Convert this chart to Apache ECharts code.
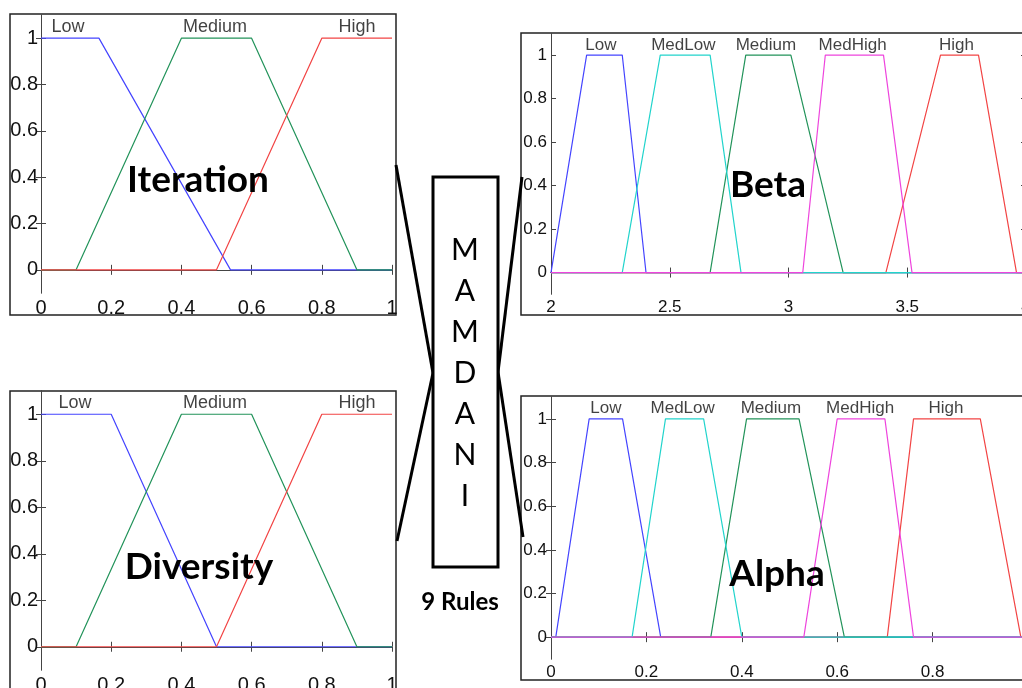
<!DOCTYPE html>
<html>
<head>
<meta charset="utf-8">
<script src="https://cdn.jsdelivr.net/npm/echarts@6/dist/echarts.min.js"></script>
<style>html,body{margin:0;padding:0;background:#fff}#c{width:1022px;height:688px}</style>
</head>
<body>
<div id="c"></div>
<script>
// ---------- data (membership functions: [x, membership]) ----------
const yTicks = [0, 0.2, 0.4, 0.6, 0.8, 1];

const iterationNames = ['Low', 'Medium', 'High'];
const iterationLabelX = [0.077, 0.496, 0.9];
const iterationLow = [[0,1],[0.165,1],[0.54,0],[1,0]];
const iterationMedium = [[0,0],[0.1,0],[0.4,1],[0.6,1],[0.9,0],[1,0]];
const iterationHigh = [[0,0],[0.5,0],[0.8,1],[1,1]];

const diversityNames = ['Low', 'Medium', 'High'];
const diversityLabelX = [0.097, 0.496, 0.9];
const diversityLow = [[0,1],[0.2,1],[0.5,0],[1,0]];
const diversityMedium = [[0,0],[0.1,0],[0.4,1],[0.6,1],[0.9,0],[1,0]];
const diversityHigh = [[0,0],[0.5,0],[0.8,1],[1,1]];

const betaNames = ['Low', 'MedLow', 'Medium', 'MedHigh', 'High'];
const betaLabelX = [2.21, 2.557, 2.905, 3.27, 3.707];
const betaLow = [[2,0],[2.15,1],[2.3,1],[2.4,0],[4,0]];
const betaMedLow = [[2,0],[2.3,0],[2.46,1],[2.67,1],[2.8,0],[4,0]];
const betaMedium = [[2,0],[2.67,0],[2.82,1],[3.01,1],[3.23,0],[4,0]];
const betaMedHigh = [[2,0],[3.06,0],[3.155,1],[3.4,1],[3.52,0],[4,0]];
const betaHigh = [[2,0],[3.41,0],[3.64,1],[3.8,1],[3.96,0],[4,0]];

const alphaNames = ['Low', 'MedLow', 'Medium', 'MedHigh', 'High'];
const alphaLabelX = [0.115, 0.276, 0.461, 0.648, 0.828];
const alphaLow = [[0,0],[0.01,0],[0.08,1],[0.15,1],[0.23,0],[1,0]];
const alphaMedLow = [[0,0],[0.17,0],[0.24,1],[0.32,1],[0.4,0],[1,0]];
const alphaMedium = [[0,0],[0.335,0],[0.41,1],[0.52,1],[0.615,0],[1,0]];
const alphaMedHigh = [[0,0],[0.53,0],[0.6,1],[0.7,1],[0.76,0],[1,0]];
const alphaHigh = [[0,0],[0.705,0],[0.76,1],[0.9,1],[0.985,0],[1,0]];

const centerLetters = ['M','A','M','D','A','N','I'];
const rulesText = '9 Rules';

// ---------- styling ----------
const C = {blue:'#4444ff', green:'#22935a', red:'#f24444', cyan:'#22d4cc', magenta:'#ee44dd'};
const AX = '#444';
const FONT = '"Liberation Sans", Arial, sans-serif';

const grids = [
  {left: 41, top: 15, width: 351, height: 278},
  {left: 41, top: 391, width: 351, height: 279},
  {left: 551, top: 33.3, width: 475, height: 261},
  {left: 551, top: 397, width: 477, height: 262}
];
const xRanges = [[0,1,0.2],[0,1,0.2],[2,4,0.5],[0,1,0.2]];
const tickFont = [20, 20, 17, 17];

const xAxis = [], yAxis = [];
grids.forEach((g, i) => {
  const [mn, mx, iv] = xRanges[i];
  const common = {
    gridIndex: i, type: 'value', min: mn, max: mx, interval: iv,
    axisLine: {show: true, lineStyle: {color: AX, width: 1}},
    axisTick: {show: true, inside: true, length: 5, lineStyle: {color: AX}},
    splitLine: {show: false}
  };
  xAxis.push(Object.assign({}, common, {position: 'bottom',
    axisLabel: {show: true, color: '#111', fontSize: tickFont[i], fontFamily: FONT, margin: 5}}));
  xAxis.push(Object.assign({}, common, {position: 'top', axisLabel: {show: false}}));
  const yc = {
    gridIndex: i, type: 'value', min: -0.1, max: 1.1,
    axisLine: {show: true, lineStyle: {color: AX, width: 1}},
    axisTick: {show: true, inside: true, length: 5, lineStyle: {color: AX}, customValues: yTicks},
    splitLine: {show: false}
  };
  yAxis.push(Object.assign({}, yc, {position: 'left',
    axisLabel: {show: true, color: '#111', fontSize: tickFont[i], fontFamily: FONT, margin: i < 2 ? 3 : 4,
      customValues: yTicks, formatter: v => String(v)}}));
  yAxis.push(Object.assign({}, yc, {position: 'right', axisLabel: {show: false}}));
});

const series = [];
function addLine(gi, data, color) {
  series.push({type: 'line', xAxisIndex: gi * 2, yAxisIndex: gi * 2, data: data,
    showSymbol: false, symbol: 'none', animation: false,
    lineStyle: {color: color, width: 1.2}, silent: true});
}
function addNames(gi, names, xs, fs) {
  series.push({type: 'scatter', xAxisIndex: gi * 2, yAxisIndex: gi * 2,
    data: names.map((n, k) => [xs[k], 1.047, n]), symbolSize: 0.1,
    itemStyle: {color: 'transparent'}, animation: false, silent: true,
    label: {show: true, position: 'inside', formatter: p => p.value[2],
      color: '#111', fontSize: fs, fontFamily: FONT}});
}
// Iteration
addLine(0, iterationLow, C.blue); addLine(0, iterationMedium, C.green); addLine(0, iterationHigh, C.red);
addNames(0, iterationNames, iterationLabelX, 18);
// Diversity
addLine(1, diversityLow, C.blue); addLine(1, diversityMedium, C.green); addLine(1, diversityHigh, C.red);
addNames(1, diversityNames, diversityLabelX, 18);
// Beta
addLine(2, betaLow, C.blue); addLine(2, betaHigh, C.red); addLine(2, betaMedium, C.green);
addLine(2, betaMedLow, C.cyan); addLine(2, betaMedHigh, C.magenta);
addNames(2, betaNames, betaLabelX, 17);
// Alpha
addLine(3, alphaLow, C.blue); addLine(3, alphaHigh, C.red); addLine(3, alphaMedium, C.green);
addLine(3, alphaMedLow, C.cyan); addLine(3, alphaMedHigh, C.magenta);
addNames(3, alphaNames, alphaLabelX, 17);

// ---------- annotations ----------
const graphic = [];
function frame(x, y, w, h) {
  graphic.push({type: 'rect', shape: {x: x, y: y, width: w, height: h}, z: -1,
    style: {fill: 'none', stroke: '#222', lineWidth: 1.5}});
}
frame(10, 14, 386, 301);
frame(10, 391, 386, 320);
frame(521, 33, 520, 282);
frame(521, 396, 520, 284);

function bigText(t, x, y) {
  graphic.push({type: 'text', x: x, y: y, z: 10,
    style: {text: t, fill: '#000', font: 'bold 37px Lato, "Open Sans", sans-serif',
      textAlign: 'center', textVerticalAlign: 'middle'}});
}
bigText('Iteration', 198, 180);
bigText('Diversity', 199, 567);
bigText('Beta', 768, 185);
bigText('Alpha', 777, 574);

function seg(x1, y1, x2, y2) {
  graphic.push({type: 'line', z: 10, shape: {x1: x1, y1: y1, x2: x2, y2: y2},
    style: {stroke: '#000', lineWidth: 3}});
}
seg(396, 165, 433, 373);
seg(433, 373, 397, 541);
seg(522, 177, 498, 372);
seg(498, 372, 523, 537);

graphic.push({type: 'rect', z: 10, shape: {x: 433, y: 177, width: 65, height: 390},
  style: {fill: '#fff', stroke: '#000', lineWidth: 3}});
centerLetters.forEach((ch, k) => {
  graphic.push({type: 'text', z: 11, x: 465, y: 250 + k * 41,
    style: {text: ch, fill: '#000', font: '30px Lato, "Open Sans", sans-serif',
      textAlign: 'center', textVerticalAlign: 'middle'}});
});
graphic.push({type: 'text', z: 11, x: 460, y: 602,
  style: {text: rulesText, fill: '#000', font: 'bold 24px Lato, "Open Sans", sans-serif',
    textAlign: 'center', textVerticalAlign: 'middle'}});

const chart = echarts.init(document.getElementById('c'), null, {renderer: 'canvas'});
chart.setOption({
  backgroundColor: '#fff',
  animation: false,
  grid: grids.map(g => Object.assign({containLabel: false, outerBoundsMode: 'none'}, g)),
  xAxis: xAxis,
  yAxis: yAxis,
  series: series,
  graphic: graphic
});
</script>
</body>
</html>
